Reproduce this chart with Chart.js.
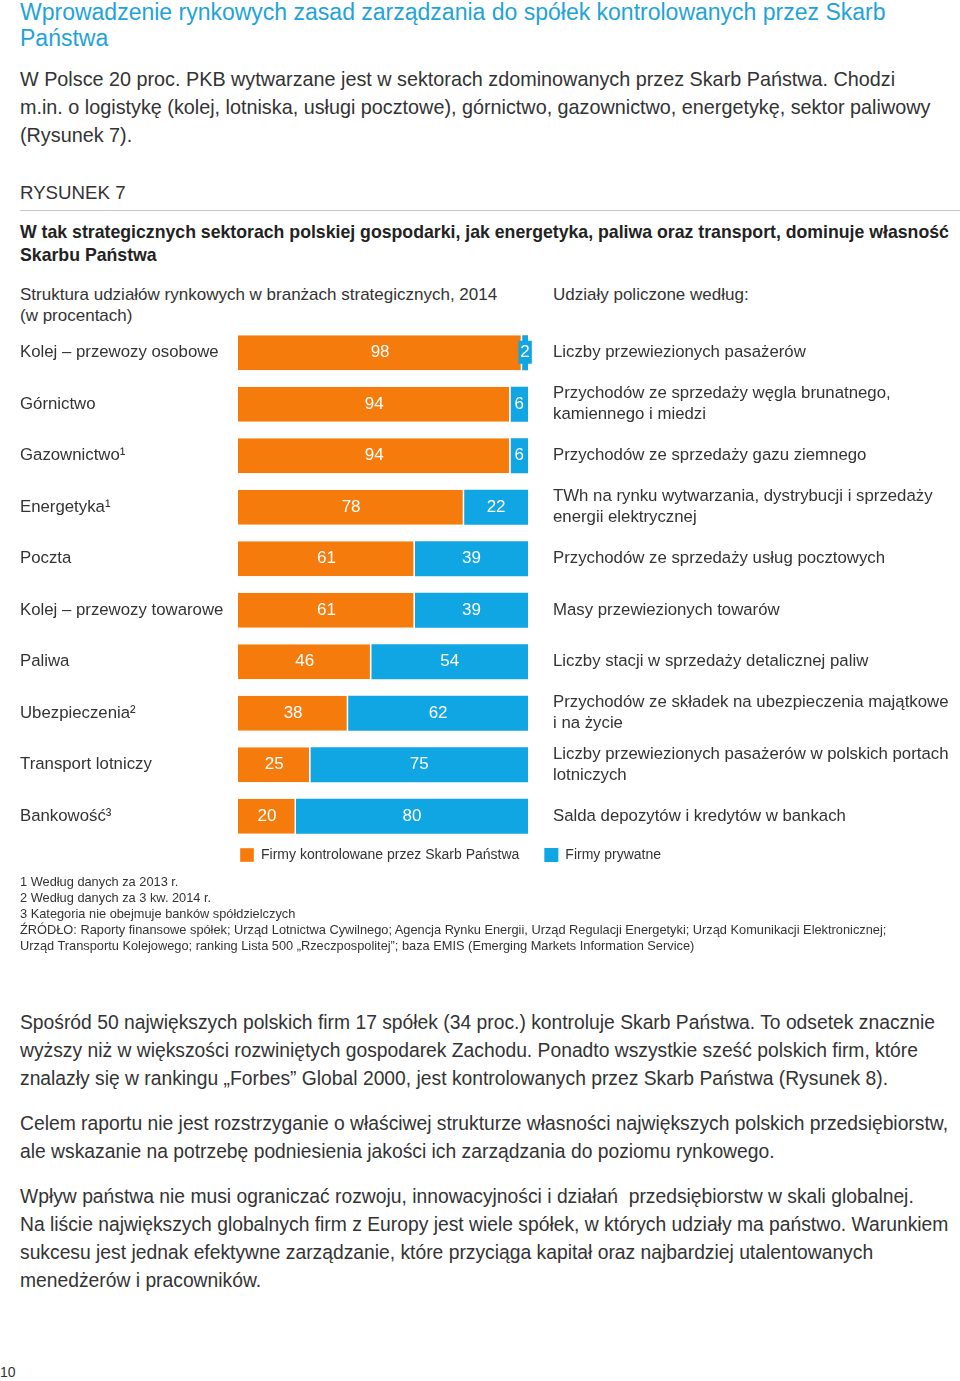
<!DOCTYPE html>
<html>
<head>
<meta charset="utf-8">
<script src="https://cdn.jsdelivr.net/npm/chart.js@4.4.1/dist/chart.umd.min.js"></script>
<style>
  html, body { margin:0; padding:0; background:#fff; }
  body { width:960px; height:1381px; position:relative; overflow:hidden; font-family:"Liberation Sans", Arial, sans-serif; color:#333; }
  .t { position:absolute; left:20px; white-space:nowrap; }
  #title { top:-1px; font-size:23px; line-height:26px; color:#1fa3d9; }
  .para { font-size:19.8px; line-height:28px; }
  .para2 { font-size:19.3px; line-height:28px; }
  #rys { top:181px; font-size:18.7px; line-height:24px; }
  #rule { position:absolute; left:20px; top:210px; width:940px; height:0; border-top:1.5px solid #c9c9c9; }
  #sub { top:220.5px; font-size:17.7px; line-height:23px; font-weight:bold; color:#222; }
  #struct { top:283.5px; font-size:17px; line-height:21px; }
  #basis { top:283.5px; left:553px; font-size:17px; line-height:21px; }
  #notes { top:874px; font-size:12.8px; line-height:16px; }
  #pg { top:1363px; left:0px; font-size:14px; line-height:18px; }
  #chartWrap { position:absolute; left:0; top:300px; width:960px; height:591px; }
</style>
</head>
<body>
<div class="t" id="title">Wprowadzenie rynkowych zasad zarządzania do spółek kontrolowanych przez Skarb<br>Państwa</div>
<div class="t para" style="top:65px">W Polsce 20 proc. PKB wytwarzane jest w sektorach zdominowanych przez Skarb Państwa. Chodzi<br>m.in. o logistykę (kolej, lotniska, usługi pocztowe), górnictwo, gazownictwo, energetykę, sektor paliwowy<br>(Rysunek 7).</div>
<div class="t" id="rys">RYSUNEK 7</div>
<div id="rule"></div>
<div class="t" id="sub">W tak strategicznych sektorach polskiej gospodarki, jak energetyka, paliwa oraz transport, dominuje własność<br>Skarbu Państwa</div>
<div class="t" id="struct">Struktura udziałów rynkowych w branżach strategicznych, 2014<br>(w procentach)</div>
<div class="t" id="basis">Udziały policzone według:</div>
<div id="chartWrap"><canvas id="c" width="960" height="591"></canvas></div>
<div class="t" id="notes">1 Według danych za 2013 r.<br>2 Według danych za 3 kw. 2014 r.<br>3 Kategoria nie obejmuje banków spółdzielczych<br>ŹRÓDŁO: Raporty finansowe spółek; Urząd Lotnictwa Cywilnego; Agencja Rynku Energii, Urząd Regulacji Energetyki; Urząd Komunikacji Elektronicznej;<br>Urząd Transportu Kolejowego; ranking Lista 500 „Rzeczpospolitej”; baza EMIS (Emerging Markets Information Service)</div>
<div class="t para2" style="top:1009px">Spośród 50 największych polskich firm 17 spółek (34 proc.) kontroluje Skarb Państwa. To odsetek znacznie<br>wyższy niż w większości rozwiniętych gospodarek Zachodu. Ponadto wszystkie sześć polskich firm, które<br>znalazły się w rankingu „Forbes” Global 2000, jest kontrolowanych przez Skarb Państwa (Rysunek 8).</div>
<div class="t para2" style="top:1110px">Celem raportu nie jest rozstrzyganie o właściwej strukturze własności największych polskich przedsiębiorstw,<br>ale wskazanie na potrzebę podniesienia jakości ich zarządzania do poziomu rynkowego.</div>
<div class="t para2" style="top:1183px">Wpływ państwa nie musi ograniczać rozwoju, innowacyjności i działań&nbsp; przedsiębiorstw w skali globalnej.<br>Na liście największych globalnych firm z Europy jest wiele spółek, w których udziały ma państwo. Warunkiem<br>sukcesu jest jednak efektywne zarządzanie, które przyciąga kapitał oraz najbardziej utalentowanych<br>menedżerów i pracowników.</div>
<div class="t" id="pg">10</div>

<script>
const categories = ['Kolej – przewozy osobowe','Górnictwo','Gazownictwo¹','Energetyka¹','Poczta','Kolej – przewozy towarowe','Paliwa','Ubezpieczenia²','Transport lotniczy','Bankowość³'];
const stateShare = [98,94,94,78,61,61,46,38,25,20];
const privateShare = [2,6,6,22,39,39,54,62,75,80];
const basisLabels = [
  'Liczby przewiezionych pasażerów',
  ['Przychodów ze sprzedaży węgla brunatnego,','kamiennego i miedzi'],
  'Przychodów ze sprzedaży gazu ziemnego',
  ['TWh na rynku wytwarzania, dystrybucji i sprzedaży','energii elektrycznej'],
  'Przychodów ze sprzedaży usług pocztowych',
  'Masy przewiezionych towarów',
  'Liczby stacji w sprzedaży detalicznej paliw',
  ['Przychodów ze składek na ubezpieczenia majątkowe','i na życie'],
  ['Liczby przewiezionych pasażerów w polskich portach','lotniczych'],
  'Salda depozytów i kredytów w bankach'
];
const seriesNames = ['Firmy kontrolowane przez Skarb Państwa','Firmy prywatne'];

const ORANGE = '#f57b0c';
const BLUE = '#10a6e3';
const FONT = '"Liberation Sans", Arial, sans-serif';

const barLabels = {
  id:'barLabels',
  afterDatasetsDraw(chart){
    const ctx = chart.ctx;
    ctx.save();
    chart.data.datasets.forEach((ds, di) => {
      const meta = chart.getDatasetMeta(di);
      meta.data.forEach((bar, i) => {
        const v = ds.data[i];
        const p = bar.getProps(['x','y','base'], true);
        const l = Math.min(p.x, p.base), r = Math.max(p.x, p.base);
        const cx = (l + r) / 2;
        ctx.font = '17px ' + FONT;
        const tw = ctx.measureText(String(v)).width;
        if (r - l < tw + 4) {
          ctx.fillStyle = ds.backgroundColor;
          ctx.fillRect(cx - tw/2 - 2, p.y - 12, tw + 4, 23);
        }
        ctx.fillStyle = '#fff';
        ctx.textAlign = 'center';
        ctx.textBaseline = 'middle';
        ctx.fillText(String(v), cx, p.y);
      });
    });
    ctx.restore();
  }
};

const legendShift = {
  id:'legendShift',
  afterLayout(chart){
    const lg = chart.legend;
    if (!lg) return;
    lg.left = 215;
    lg.top = 855 - 300 - 25 - 7;
  }
};

function fixY(width){
  return function(s){ s.width = width; s.paddingTop = 0; s.paddingBottom = 0; };
}

new Chart(document.getElementById('c'), {
  type:'bar',
  data:{
    labels: categories,
    datasets:[
      { label: seriesNames[0], data: stateShare, backgroundColor: ORANGE, borderColor:'#fff', borderWidth:{top:0,bottom:0,left:0,right:1.5}, borderSkipped:false, barPercentage:0.68, categoryPercentage:1 },
      { label: seriesNames[1], data: privateShare, backgroundColor: BLUE, borderWidth:0, barPercentage:0.68, categoryPercentage:1 }
    ]
  },
  options:{
    indexAxis:'y',
    responsive:false,
    animation:false,
    layout:{ padding:{ top:27, left:20, right:0, bottom:0 } },
    scales:{
      x:{ stacked:true, min:0, max:100, display:false },
      y:{ stacked:true, position:'left', grid:{display:false, drawTicks:false}, border:{display:false},
          ticks:{ crossAlign:'far', padding:0, color:'#333', font:{ family:FONT, size:16.8 } },
          afterFit: fixY(218) },
      y2:{ type:'category', labels: basisLabels, position:'right', offset:true, grid:{display:false, drawTicks:false}, border:{display:false},
          ticks:{ padding:25, color:'#333', font:{ family:FONT, size:16.8, lineHeight:1.26 } },
          afterFit: fixY(432) }
    },
    plugins:{
      legend:{ position:'bottom', align:'start',
        labels:{ boxWidth:14, boxHeight:14, padding:25, color:'#333', font:{ family:FONT, size:14 } } },
      tooltip:{ enabled:false }
    }
  },
  plugins:[barLabels, legendShift]
});
</script>
</body>
</html>
